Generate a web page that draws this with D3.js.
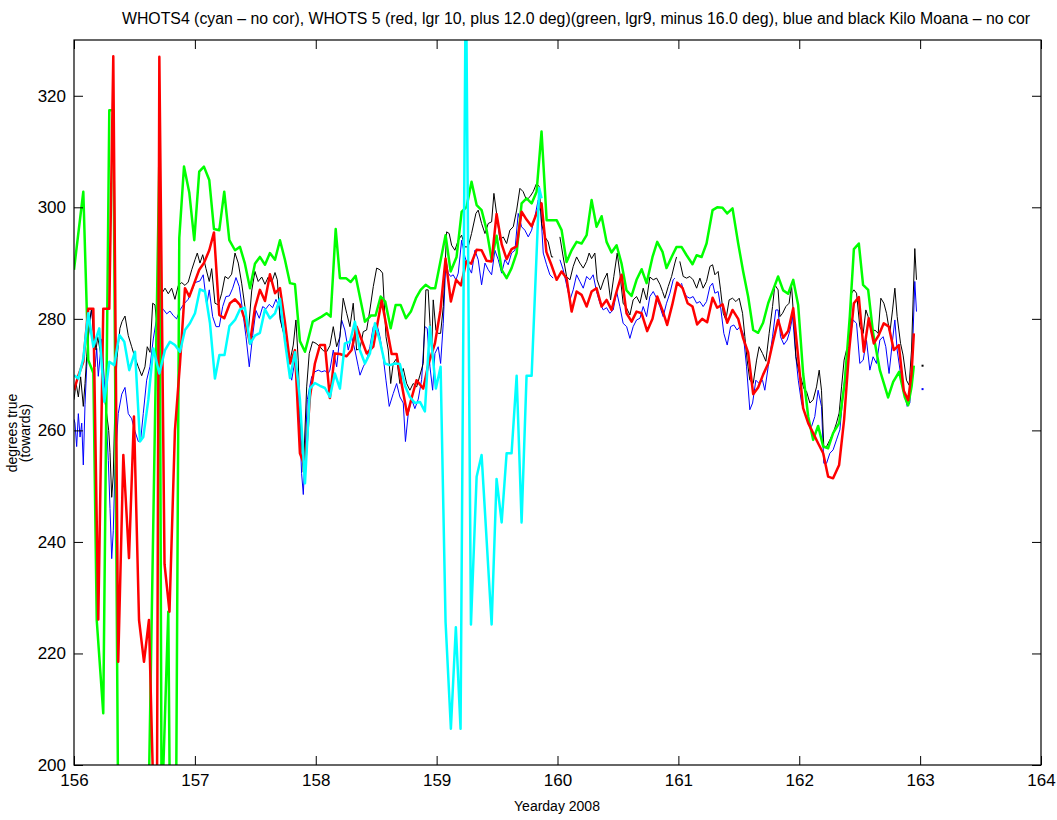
<!DOCTYPE html>
<html><head><meta charset="utf-8">
<script src="https://cdn.jsdelivr.net/npm/d3@7"></script>
<style>
html,body{margin:0;padding:0;background:#fff;}
svg{display:block;font-family:"Liberation Sans",Arial,Helvetica,sans-serif;}
</style></head>
<body>
<svg id="chart" width="1057" height="820"></svg>
<script>
const titleText = "WHOTS4 (cyan \u2013 no cor), WHOTS 5 (red, lgr 10, plus 12.0 deg)(green, lgr9, minus 16.0 deg), blue and black Kilo Moana \u2013 no cor";
const xLabel = "Yearday 2008";
const yLabel1 = "degrees true";
const yLabel2 = "(towards)";
const xTicks = [156,157,158,159,160,161,162,163,164];
const yTicks = [200,220,240,260,280,300,320];
const xDomain = [156,164];
const yDomain = [200,330];

const green = [[156.000,288.8],[156.077,302.8],[156.118,272.6],[156.160,270.3],[156.188,226.0],[156.242,209.3],[156.292,317.4],[156.325,317.4],[156.366,190],[156.450,185],[156.550,185],[156.615,190],[156.706,308.6],[156.725,190],[156.780,227.5],[156.794,190],[156.844,190],[156.871,294.5],[156.910,307.3],[156.954,302.6],[156.995,294.1],[157.036,306.4],[157.075,307.3],[157.119,304.9],[157.158,296.1],[157.202,295.9],[157.243,302.8],[157.285,294.1],[157.332,292.3],[157.373,292.9],[157.414,289.9],[157.456,285.5],[157.497,289.9],[157.538,291.1],[157.580,289.7],[157.621,291.8],[157.663,290.6],[157.704,294.1],[157.745,290.6],[157.787,286.4],[157.828,286.2],[157.869,276.0],[157.911,274.1],[157.975,279.5],[158.049,280.4],[158.090,281.0],[158.123,280.4],[158.165,296.1],[158.200,287.3],[158.250,287.3],[158.289,286.6],[158.330,287.7],[158.407,279.5],[158.457,280.6],[158.495,280.6],[158.537,284.0],[158.575,283.1],[158.620,278.3],[158.661,282.5],[158.702,282.5],[158.746,280.1],[158.787,281.3],[158.829,283.7],[158.868,285.2],[158.909,286.1],[158.950,285.5],[158.988,285.5],[159.074,295.0],[159.116,288.5],[159.165,291.1],[159.207,299.2],[159.248,300.1],[159.289,304.6],[159.331,300.4],[159.372,299.5],[159.414,295.9],[159.455,290.6],[159.496,294.9],[159.538,288.8],[159.579,287.3],[159.620,289.1],[159.662,291.8],[159.703,300.7],[159.744,301.6],[159.786,300.7],[159.827,302.8],[159.868,313.6],[159.910,297.7],[159.993,297.7],[160.034,295.9],[160.075,290.2],[160.117,292.3],[160.158,293.8],[160.199,293.5],[160.241,295.0],[160.282,301.3],[160.323,296.5],[160.365,298.4],[160.406,293.8],[160.447,291.9],[160.489,293.2],[160.530,289.9],[160.571,285.1],[160.613,284.1],[160.654,287.0],[160.696,288.9],[160.737,286.4],[160.786,291.1],[160.825,293.8],[160.869,292.0],[160.902,289.1],[160.944,291.1],[160.985,292.9],[161.026,292.9],[161.068,291.4],[161.117,289.8],[161.151,291.4],[161.192,291.1],[161.233,293.5],[161.283,299.5],[161.321,300.0],[161.366,299.9],[161.404,298.9],[161.448,299.8],[161.495,293.5],[161.536,288.5],[161.577,284.0],[161.619,278.0],[161.660,277.5],[161.701,279.3],[161.743,282.8],[161.784,285.2],[161.825,287.6],[161.867,285.1],[161.908,284.5],[161.950,287.0],[161.991,282.5],[162.032,270.2],[162.074,262.5],[162.115,258.3],[162.156,260.8],[162.198,257.1],[162.239,256.8],[162.280,259.5],[162.330,261.3],[162.377,268.7],[162.418,280.4],[162.452,292.5],[162.493,293.5],[162.528,286.1],[162.570,285.2],[162.611,277.4],[162.667,270.8],[162.735,265.9],[162.777,268.7],[162.826,270.5],[162.873,266.0],[162.901,264.5],[162.929,267.8],[162.948,271.6]];

const red = [[156.000,267.2],[156.036,269.8],[156.077,272.3],[156.118,281.8],[156.160,281.8],[156.201,226.1],[156.242,281.8],[156.292,281.8],[156.325,327.1],[156.366,218.5],[156.408,255.6],[156.455,237.1],[156.496,262.5],[156.538,226.0],[156.579,218.5],[156.620,226.0],[156.662,190],[156.686,190],[156.706,327.0],[156.749,236.0],[156.790,227.5],[156.835,260.0],[156.877,272.0],[156.918,285.5],[156.954,284.0],[156.995,286.4],[157.036,288.8],[157.075,290.0],[157.119,292.3],[157.158,295.5],[157.202,280.7],[157.243,280.1],[157.290,282.8],[157.332,283.5],[157.373,282.5],[157.414,279.8],[157.456,275.6],[157.497,282.0],[157.538,285.2],[157.580,283.2],[157.621,288.0],[157.663,284.6],[157.704,285.5],[157.745,279.4],[157.787,272.0],[157.828,274.4],[157.869,255.9],[157.911,253.5],[157.952,266.0],[157.993,272.0],[158.035,275.3],[158.076,275.3],[158.117,265.8],[158.158,273.8],[158.200,273.7],[158.255,273.3],[158.297,274.4],[158.338,278.6],[158.380,276.2],[158.421,273.8],[158.476,275.0],[158.545,283.3],[158.591,278.0],[158.628,273.7],[158.669,273.7],[158.710,268.4],[158.757,262.8],[158.793,265.8],[158.834,269.0],[158.889,267.5],[158.930,271.7],[158.986,275.6],[159.031,281.5],[159.074,290.8],[159.118,283.1],[159.161,287.0],[159.202,286.0],[159.245,290.3],[159.286,289.9],[159.331,292.4],[159.372,292.3],[159.414,290.4],[159.455,290.3],[159.496,298.8],[159.538,293.4],[159.579,290.7],[159.620,292.5],[159.662,293.0],[159.703,299.2],[159.744,297.8],[159.786,296.6],[159.827,298.9],[159.868,300.7],[159.908,292.0],[159.949,289.7],[159.993,287.0],[160.034,288.5],[160.075,287.3],[160.117,281.3],[160.158,284.9],[160.199,284.3],[160.241,282.2],[160.282,284.9],[160.323,285.5],[160.365,282.2],[160.406,283.4],[160.447,281.6],[160.489,284.9],[160.530,287.9],[160.571,281.0],[160.613,279.5],[160.654,281.3],[160.696,281.0],[160.742,277.8],[160.786,280.0],[160.825,284.0],[160.869,281.5],[160.907,278.9],[160.949,282.5],[160.990,286.5],[161.035,285.5],[161.076,282.8],[161.117,282.2],[161.155,279.0],[161.197,280.0],[161.238,279.4],[161.283,283.8],[161.321,282.0],[161.366,282.6],[161.404,279.3],[161.448,281.6],[161.495,280.0],[161.536,276.5],[161.577,274.0],[161.619,266.5],[161.660,267.7],[161.701,270.0],[161.743,272.0],[161.784,276.0],[161.825,279.8],[161.867,276.6],[161.908,277.8],[161.950,281.9],[161.991,273.2],[162.032,264.0],[162.074,261.3],[162.115,259.5],[162.156,257.7],[162.198,255.9],[162.239,251.7],[162.280,251.4],[162.330,253.8],[162.371,261.9],[162.412,274.1],[162.452,282.8],[162.493,283.9],[162.534,274.1],[162.575,280.1],[162.617,275.6],[162.658,277.1],[162.699,279.2],[162.741,278.6],[162.782,274.4],[162.824,275.3],[162.865,267.1],[162.901,265.4],[162.929,270.2],[162.948,277.4]];

const cyan = [[156.000,269.9],[156.036,269.3],[156.077,272.9],[156.118,281.0],[156.160,275.0],[156.209,278.3],[156.251,265.1],[156.292,272.3],[156.333,271.7],[156.375,277.1],[156.416,275.9],[156.457,270.8],[156.505,274.1],[156.546,258.0],[156.573,258.8],[156.615,265.5],[156.656,274.7],[156.706,270.2],[156.753,274.4],[156.794,275.9],[156.835,275.3],[156.877,274.1],[156.918,278.0],[156.959,279.2],[157.001,281.0],[157.042,285.3],[157.084,284.9],[157.125,279.2],[157.166,269.3],[157.203,273.5],[157.245,273.5],[157.286,278.7],[157.332,279.8],[157.373,281.7],[157.414,282.0],[157.456,275.5],[157.497,277.0],[157.538,277.5],[157.580,281.7],[157.621,280.1],[157.663,281.0],[157.704,283.6],[157.745,276.0],[157.787,269.4],[157.828,274.0],[157.869,265.5],[157.911,250.5],[157.952,267.5],[157.993,268.5],[158.035,268.0],[158.076,267.6],[158.117,266.0],[158.158,270.2],[158.200,267.5],[158.241,275.6],[158.283,275.9],[158.324,279.5],[158.365,274.4],[158.407,272.0],[158.448,273.8],[158.490,279.2],[158.531,276.0],[158.572,272.0],[158.614,271.7],[158.655,272.0],[158.696,271.9],[158.738,268.0],[158.779,266.0],[158.820,264.9],[158.862,265.1],[158.903,263.4],[158.944,278.6],[158.994,267.5],[159.033,271.4],[159.074,225.6],[159.118,206.5],[159.159,224.7],[159.198,206.5],[159.242,345.0],[159.284,225.2],[159.331,251.7],[159.372,255.6],[159.455,225.2],[159.496,251.3],[159.538,243.5],[159.579,255.9],[159.620,255.9],[159.662,269.8],[159.703,243.5],[159.744,269.8],[159.786,269.8],[159.849,303.4],[159.868,301.6]];

const black = [[156.000,265.5],[156.017,268.5],[156.036,266.0],[156.055,269.6],[156.077,264.3],[156.091,268.4],[156.105,273.2],[156.127,279.2],[156.146,281.9],[156.160,278.0],[156.182,274.4],[156.196,276.8],[156.215,274.4],[156.237,271.4],[156.251,266.0],[156.270,263.0],[156.287,260.0],[156.298,256.0],[156.312,248.0],[156.325,252.0],[156.339,265.0],[156.356,273.0],[156.380,278.3],[156.397,279.5],[156.422,280.5],[156.449,277.0],[156.477,275.0],[156.505,273.0],[156.532,271.4],[156.560,269.8],[156.587,271.4],[156.606,275.0],[156.629,274.0],[156.651,282.8],[156.670,282.5],[156.689,278.0],[156.706,280.4],[156.725,284.5],[156.753,285.5],[156.780,284.5],[156.808,285.5],[156.835,283.5],[156.863,286.0],[156.891,286.5],[156.918,286.0],[156.945,286.6],[156.974,288.8],[157.001,290.6],[157.020,291.8],[157.042,290.0],[157.065,291.5],[157.092,289.0],[157.119,286.7],[157.139,289.0],[157.166,282.8],[157.194,282.5],[157.222,284.6],[157.249,287.6],[157.276,287.2],[157.304,288.0],[157.332,291.8],[157.359,290.0],[157.387,286.4],[157.414,282.2],[157.442,277.6],[157.470,285.0],[157.497,288.5],[157.524,286.7],[157.553,287.5],[157.580,286.2],[157.607,287.5],[157.635,286.5],[157.663,288.3],[157.682,287.0],[157.704,280.0],[157.731,277.7],[157.759,274.8],[157.787,272.4],[157.814,275.3],[157.836,279.8],[157.855,272.6],[157.869,263.0],[157.897,252.5],[157.925,267.8],[157.946,273.8],[157.974,275.9],[158.002,275.6],[158.035,275.0],[158.062,274.3],[158.090,274.1],[158.117,275.2],[158.145,278.6],[158.173,275.0],[158.200,276.8],[158.227,283.7],[158.256,281.0],[158.283,278.6],[158.310,282.8],[158.338,274.4],[158.366,274.7],[158.393,277.7],[158.421,278.0],[158.448,281.6],[158.476,285.8],[158.504,289.1],[158.531,288.8],[158.553,288.2],[158.581,276.8],[158.600,274.4],[158.620,268.4],[158.641,272.0],[158.669,272.9],[158.696,268.4],[158.724,271.1],[158.752,268.4],[158.779,267.2],[158.806,268.4],[158.835,267.8],[158.862,269.9],[158.889,272.0],[158.911,285.2],[158.930,285.2],[158.945,279.2],[158.959,274.4],[158.972,283.4],[158.994,278.0],[159.013,277.4],[159.033,277.4],[159.055,282.2],[159.083,295.6],[159.104,295.3],[159.124,293.2],[159.151,292.3],[159.179,294.1],[159.207,295.0],[159.234,292.9],[159.261,292.9],[159.289,295.3],[159.325,298.9],[159.344,299.5],[159.372,297.1],[159.400,295.3],[159.427,297.1],[159.455,297.4],[159.474,302.5],[159.496,298.9],[159.524,294.1],[159.551,294.7],[159.579,293.5],[159.606,295.9],[159.634,296.5],[159.662,299.5],[159.689,303.4],[159.716,302.8],[159.744,301.3],[159.772,301.9],[159.799,302.8],[159.827,304.3],[159.849,303.7],[159.868,297.1],[159.896,294.7],[159.923,293.8],[159.951,291.1],[159.964,291.1],[159.990,null],[160.020,294.7],[160.047,291.1],[160.075,287.6],[160.103,287.0],[160.130,289.4],[160.158,291.1],[160.185,290.0],[160.213,289.1],[160.241,290.3],[160.262,291.8],[160.282,290.8],[160.309,291.8],[160.328,287.0],[160.356,285.2],[160.384,287.0],[160.411,288.2],[160.439,283.4],[160.466,287.6],[160.494,291.8],[160.516,288.2],[160.543,282.8],[160.572,281.9],[160.599,280.7],[160.626,283.4],[160.654,284.0],[160.682,282.8],[160.709,285.5],[160.737,283.4],[160.764,287.5],[160.792,287.0],[160.820,287.3],[160.847,286.2],[160.869,284.9],[160.888,283.7],[160.916,285.8],[160.944,287.6],[160.971,290.0],[160.985,291.1],[161.000,null],[161.012,290.3],[161.040,287.6],[161.068,287.3],[161.095,287.6],[161.122,287.0],[161.151,285.5],[161.178,287.3],[161.205,285.5],[161.233,286.7],[161.261,289.4],[161.283,289.7],[161.302,287.9],[161.329,288.5],[161.349,285.2],[161.371,281.0],[161.393,279.8],[161.420,283.4],[161.448,283.7],[161.476,283.1],[161.503,283.7],[161.531,281.0],[161.550,276.8],[161.569,272.6],[161.591,269.0],[161.619,268.4],[161.647,272.6],[161.668,275.0],[161.696,273.8],[161.724,272.4],[161.751,277.4],[161.779,282.2],[161.798,286.1],[161.825,285.2],[161.840,280.4],[161.862,281.0],[161.889,282.2],[161.916,282.8],[161.936,286.1],[161.955,279.8],[161.972,273.2],[161.992,271.0],[162.019,269.0],[162.038,267.5],[162.060,267.0],[162.088,264.9],[162.115,265.5],[162.143,267.8],[162.165,270.8],[162.184,267.2],[162.203,257.1],[162.226,257.1],[162.253,258.3],[162.280,259.5],[162.308,261.3],[162.330,263.1],[162.350,267.8],[162.371,272.6],[162.391,274.4],[162.413,275.0],[162.433,284.6],[162.452,285.2],[162.474,284.6],[162.501,278.6],[162.529,277.4],[162.551,281.6],[162.570,280.4],[162.598,277.4],[162.625,278.0],[162.653,277.4],[162.675,283.7],[162.700,282.8],[162.722,281.0],[162.749,277.4],[162.772,281.6],[162.791,285.5],[162.810,280.4],[162.838,275.6],[162.859,273.5],[162.887,269.0],[162.909,268.1],[162.929,274.4],[162.942,283.4],[162.956,292.6],[162.970,287.0]];

const blue = [[156.000,262.0],[156.008,261.3],[156.022,257.1],[156.036,263.0],[156.050,258.8],[156.064,261.3],[156.077,253.8],[156.091,264.6],[156.105,271.4],[156.118,276.4],[156.132,279.8],[156.146,281.8],[156.160,278.0],[156.174,271.4],[156.188,274.7],[156.201,269.7],[156.229,276.4],[156.256,267.2],[156.284,254.6],[156.298,246.0],[156.312,237.0],[156.325,242.0],[156.339,253.2],[156.366,263.0],[156.395,266.5],[156.422,267.7],[156.449,263.0],[156.477,262.1],[156.505,259.8],[156.532,258.0],[156.552,258.4],[156.573,263.0],[156.601,269.0],[156.629,271.5],[156.656,276.4],[156.684,280.2],[156.711,281.2],[156.739,281.7],[156.767,280.9],[156.794,281.4],[156.821,280.6],[156.849,280.0],[156.877,281.6],[156.910,282.7],[156.945,283.5],[156.974,285.0],[157.001,286.5],[157.042,286.8],[157.069,287.9],[157.098,282.5],[157.119,285.2],[157.147,280.4],[157.175,278.6],[157.202,278.6],[157.230,282.2],[157.257,284.0],[157.285,284.1],[157.313,285.5],[157.340,287.4],[157.367,285.8],[157.395,281.5],[157.423,276.8],[157.450,271.4],[157.478,277.0],[157.505,281.5],[157.533,280.1],[157.561,282.2],[157.588,281.8],[157.615,282.6],[157.643,282.0],[157.671,283.5],[157.698,282.0],[157.720,278.6],[157.745,276.8],[157.773,271.4],[157.801,269.0],[157.828,272.6],[157.855,268.0],[157.883,252.3],[157.897,248.5],[157.930,265.5],[157.966,269.6],[157.993,270.5],[158.021,270.8],[158.049,270.5],[158.076,270.7],[158.103,270.2],[158.117,270.8],[158.145,274.4],[158.173,271.4],[158.214,279.8],[158.241,278.0],[158.269,274.4],[158.297,276.8],[158.324,274.4],[158.352,271.4],[158.366,269.9],[158.393,271.4],[158.421,272.6],[158.448,275.0],[158.476,278.6],[158.504,279.2],[158.531,276.8],[158.558,273.2],[158.581,269.0],[158.608,264.3],[158.641,266.6],[158.669,268.4],[158.696,266.0],[158.724,264.9],[158.742,258.0],[158.765,263.0],[158.793,265.6],[158.820,263.9],[158.848,265.6],[158.876,269.1],[158.903,278.6],[158.922,278.3],[158.945,271.4],[158.967,267.2],[158.986,273.8],[159.013,275.0],[159.033,272.0],[159.055,279.2],[159.077,290.6],[159.096,288.2],[159.116,287.6],[159.137,287.9],[159.160,287.0],[159.179,288.2],[159.207,294.1],[159.234,291.1],[159.261,289.4],[159.289,288.2],[159.317,292.3],[159.344,290.6],[159.372,286.1],[159.400,290.0],[159.427,288.8],[159.455,287.9],[159.482,292.3],[159.510,290.6],[159.538,288.2],[159.565,290.6],[159.592,289.7],[159.620,291.8],[159.648,292.3],[159.675,298.9],[159.703,296.5],[159.730,295.9],[159.758,294.7],[159.786,295.9],[159.813,298.3],[159.840,301.3],[159.860,300.1],[159.882,291.8],[159.910,289.7],[159.937,287.9],[159.964,287.3],[159.990,null],[160.020,290.6],[160.047,288.8],[160.075,286.1],[160.103,283.4],[160.130,285.2],[160.158,287.9],[160.185,286.7],[160.213,285.5],[160.241,287.6],[160.268,287.0],[160.295,287.9],[160.323,284.9],[160.351,282.8],[160.378,281.6],[160.406,282.0],[160.433,281.0],[160.461,281.6],[160.489,284.9],[160.516,282.2],[160.543,279.2],[160.572,278.6],[160.599,276.5],[160.626,278.6],[160.654,279.8],[160.682,280.1],[160.709,282.2],[160.737,280.4],[160.764,284.0],[160.792,284.9],[160.820,283.7],[160.847,282.2],[160.874,280.4],[160.902,282.8],[160.930,284.6],[160.957,287.0],[160.971,287.3],[161.000,null],[161.026,286.4],[161.040,285.2],[161.068,284.0],[161.095,283.7],[161.122,284.0],[161.151,282.8],[161.178,283.1],[161.205,282.2],[161.233,283.1],[161.261,285.8],[161.283,286.4],[161.302,284.6],[161.329,284.9],[161.349,282.2],[161.376,277.4],[161.404,275.3],[161.432,278.6],[161.459,278.9],[161.486,278.0],[161.509,278.6],[161.536,277.4],[161.564,271.4],[161.591,263.7],[161.614,264.9],[161.641,269.0],[161.668,268.4],[161.696,269.0],[161.715,267.2],[161.743,271.4],[161.779,276.8],[161.806,281.6],[161.825,281.6],[161.845,276.8],[161.873,275.4],[161.900,276.2],[161.922,277.8],[161.945,280.4],[161.972,273.2],[161.992,269.0],[162.019,264.9],[162.046,263.1],[162.074,261.3],[162.102,260.7],[162.129,262.5],[162.156,267.2],[162.184,264.3],[162.203,254.1],[162.226,254.1],[162.253,255.9],[162.280,256.5],[162.308,258.3],[162.336,260.1],[162.361,266.0],[162.385,271.4],[162.404,272.0],[162.424,277.4],[162.446,279.8],[162.474,279.2],[162.501,272.0],[162.529,272.6],[162.556,276.2],[162.584,270.8],[162.611,273.2],[162.639,272.0],[162.667,276.2],[162.694,276.8],[162.716,275.0],[162.743,270.2],[162.772,276.2],[162.791,279.8],[162.810,274.4],[162.838,270.2],[162.865,267.2],[162.893,264.3],[162.915,264.9],[162.937,274.4],[162.956,286.7],[162.970,281.3]];

const blackTail = [[163.020,271.6]];
const blueTail = [[163.020,267.4]];

const svg = d3.select("#chart");
const W = 1057, H = 820;
const m = {left:74, right:1041, top:40, bottom:765};
svg.append("rect").attr("width",W).attr("height",H).attr("fill","#fff");

const x = d3.scaleLinear().domain(xDomain).range([m.left, m.right]);
const y = d3.scaleLinear().domain(yDomain).range([m.bottom, m.top]);

svg.append("defs").append("clipPath").attr("id","clip")
  .append("rect").attr("x",m.left).attr("y",m.top)
  .attr("width",m.right-m.left).attr("height",m.bottom-m.top);

const plot = svg.append("g").attr("clip-path","url(#clip)");
const line = d3.line().defined(d => d[1] !== null).x(d => x(d[0])).y(d => y(d[1]));

function drawSeries(data, color, width){
  plot.append("path").datum(data).attr("d", line)
    .attr("fill","none").attr("stroke",color).attr("stroke-width",width)
    .attr("stroke-linejoin","round").attr("stroke-linecap","butt");
}
drawSeries(blue, "#0000ff", 1);
drawSeries(black, "#000000", 1);
drawSeries(green, "#00ff00", 2.5);
drawSeries(red, "#ff0000", 2.5);
drawSeries(cyan, "#00ffff", 2.5);

plot.selectAll(".btail").data(blackTail).enter().append("rect")
  .attr("x", d => x(d[0]) - 1).attr("y", d => y(d[1]) - 1).attr("width",2).attr("height",2).attr("fill","#000");
plot.selectAll(".utail").data(blueTail).enter().append("rect")
  .attr("x", d => x(d[0]) - 1).attr("y", d => y(d[1]) - 1).attr("width",2).attr("height",2).attr("fill","#0000ff");

// axes
const fontAx = "17px";
const gB = svg.append("g").attr("transform",`translate(0,${m.bottom})`)
  .call(d3.axisBottom(x).tickValues(xTicks).tickFormat(d3.format("d")).tickSizeInner(-9).tickSizeOuter(0).tickPadding(9));
const gL = svg.append("g").attr("transform",`translate(${m.left},0)`)
  .call(d3.axisLeft(y).tickValues(yTicks).tickFormat(d3.format("d")).tickSizeInner(-9).tickSizeOuter(0).tickPadding(8));
const gT = svg.append("g").attr("transform",`translate(0,${m.top})`)
  .call(d3.axisTop(x).tickValues(xTicks).tickFormat("").tickSizeInner(-9).tickSizeOuter(0));
const gR = svg.append("g").attr("transform",`translate(${m.right},0)`)
  .call(d3.axisRight(y).tickValues(yTicks).tickFormat("").tickSizeInner(-9).tickSizeOuter(0));
[gB,gL,gT,gR].forEach(g => {
  g.selectAll(".domain").remove();
  g.selectAll("line").attr("stroke","#000").attr("stroke-width",1);
  g.selectAll("text").attr("fill","#000").style("font-size",fontAx)
    .style("font-family","'Liberation Sans',Arial,sans-serif");
});
svg.append("rect").attr("x",m.left).attr("y",m.top)
  .attr("width",m.right-m.left).attr("height",m.bottom-m.top)
  .attr("fill","none").attr("stroke","#000").attr("stroke-width",1.2);

// title & labels
svg.append("text").attr("x",576).attr("y",24).attr("text-anchor","middle")
  .attr("textLength",908).attr("lengthAdjust","spacingAndGlyphs")
  .style("font-size","16px").attr("fill","#000").text(titleText);
svg.append("text").attr("x",557).attr("y",811).attr("text-anchor","middle")
  .style("font-size","14px").attr("fill","#000").text(xLabel);
svg.append("text").attr("transform","translate(17,433) rotate(-90)").attr("text-anchor","middle")
  .style("font-size","14px").attr("fill","#000").text(yLabel1);
svg.append("text").attr("transform","translate(30,433) rotate(-90)").attr("text-anchor","middle")
  .style("font-size","14px").attr("fill","#000").text(yLabel2);
</script>
</body></html>
